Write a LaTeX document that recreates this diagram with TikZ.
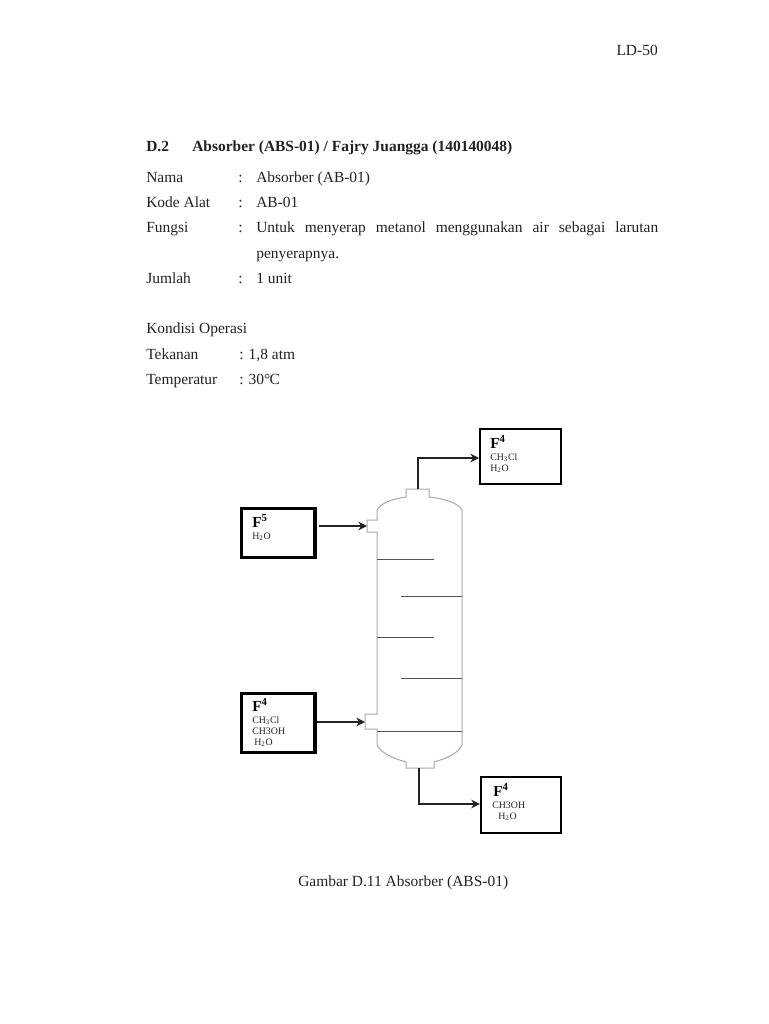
\documentclass[tikz,border=0pt]{standalone}
\usepackage{fontspec}
\setmainfont{Liberation Serif}
\usetikzlibrary{arrows.meta,fit}
\definecolor{shell}{HTML}{A8A8A8}
\definecolor{tray}{HTML}{555555}
\definecolor{ink}{HTML}{222222}
\tikzset{
  body/.style={anchor=base west,inner sep=0pt,font=\fontsize{11.6}{14}\selectfont,text=ink},
  bodybold/.style={body,font=\fontsize{11.6}{14}\selectfont\bfseries},
  stream/.style={draw=black,inner sep=0pt,fit={#1}},
  fhead/.style={anchor=base west,inner sep=0pt,font=\fontsize{11.5}{14}\selectfont\bfseries},
  fsub/.style={anchor=base west,inner sep=0pt,font=\fontsize{7.4}{9}\selectfont,text=ink},
  shellline/.style={draw=shell,line width=0.75pt},
  trayline/.style={draw=tray,line width=0.75pt},
  fl/.style={-{Stealth[length=6.5pt,width=6.5pt]},draw=ink,line width=0.9pt},
}
\begin{document}
\begin{tikzpicture}[x=0.75pt,y=-0.75pt]
  \useasboundingbox (0,0) rectangle (768,1024);
  % page text
  \node[body,anchor=base east] (page) at (658,56) {LD-50};
  \node[bodybold] (sec) at (146,151) {D.2};
  \node[bodybold] (title) at (192,151) {Absorber (ABS-01) / Fajry Juangga (140140048)};
  \node[body] (nama) at (146,182) {Nama};
  \node[body] (namac) at (238,182) {:};
  \node[body] (namav) at (256,182) {Absorber (AB-01)};
  \node[body] (kode) at (146,207) {Kode Alat};
  \node[body] (kodec) at (238,207) {:};
  \node[body] (kodev) at (256,207) {AB-01};
  \node[body] (fungsi) at (146,232) {Fungsi};
  \node[body] (fungsic) at (238,232) {:};
  \node[body] (fungsiv) at (256,232) {\hbox to 301.5pt{Untuk menyerap metanol menggunakan air sebagai larutan}};
  \node[body] (fungsiw) at (256,258) {penyerapnya.};
  \node[body] (jumlah) at (146,283) {Jumlah};
  \node[body] (jumlahc) at (238,283) {:};
  \node[body] (jumlahv) at (256,283) {1 unit};
  \node[body] (kondisi) at (146,333) {Kondisi Operasi};
  \node[body] (tekanan) at (146,359) {Tekanan};
  \node[body] (tekananv) at (239,359) {: 1,8 atm};
  \node[body] (temp) at (146,384) {Temperatur};
  \node[body] (tempv) at (239,384) {: 30\textdegree\kern-0.5pt C};
  \node[body] (caption) at (298,886) {Gambar D.11 Absorber (ABS-01)};

  % stream boxes
  \node[stream={(480,429)(561,484)},line width=1.5pt] (topbox) {};
  \node[stream={(241.5,508.5)(315,557.5)},line width=2.4pt] (waterbox) {};
  \node[stream={(241.5,693.5)(315,752.5)},line width=2.4pt] (gasbox) {};
  \node[stream={(481,777)(561,833)},line width=1.7pt] (botbox) {};

  \node[fhead] (topf) at (490,448) {F\textsuperscript{4}};
  \node[fsub] (topa) at (490,460) {CH\textsubscript{3}Cl};
  \node[fsub] (topb) at (490,471) {H\textsubscript{2}O};
  \node[fhead] (waterf) at (252,527) {F\textsuperscript{5}};
  \node[fsub] (watera) at (252,539) {H\textsubscript{2}O};
  \node[fhead] (gasf) at (252,711) {F\textsuperscript{4}};
  \node[fsub] (gasa) at (252,723) {CH\textsubscript{3}Cl};
  \node[fsub] (gasb) at (252,734) {CH3OH};
  \node[fsub] (gasc) at (254,745) {H\textsubscript{2}O};
  \node[fhead] (botf) at (493,796) {F\textsuperscript{4}};
  \node[fsub] (bota) at (492,808) {CH3OH};
  \node[fsub] (botb) at (498,819) {H\textsubscript{2}O};

  % absorber column
  \draw[shellline] (377,714) -- (365,714) -- (365,729) -- (377,729) -- (377,745)
    .. controls (381,753) and (392,758) .. (406,762) -- (406,768) -- (434,768) -- (434,762)
    .. controls (448,758) and (458,753) .. (462,745) -- (462,510)
    .. controls (458,503) and (446,499) .. (429,497) -- (429,489) -- (406,489) -- (406,497)
    .. controls (392,499) and (381,503) .. (377,510) -- (377,520) -- (367,520) -- (367,532) -- (377,532) -- cycle;
  \draw[trayline] (377,559) -- (434,559);
  \draw[trayline] (401,596) -- (462,596);
  \draw[trayline] (377,637) -- (434,637);
  \draw[trayline] (401,678) -- (462,678);
  \draw[trayline] (377,731) -- (462,731);

  % nozzles
  \coordinate (topout) at (418,489);
  \coordinate (botout) at (419,768);
  \coordinate (waterin) at (367,526);
  \coordinate (gasin) at (365,722);

  % streams
  \draw[fl] (topout) |- (topbox.west |- 0,458);
  \draw[fl] (botout) |- (botbox.west |- 0,804);
  \draw[fl] ([xshift=1.5pt]waterbox.east |- waterin) -- (waterin);
  \draw[fl] (gasbox.east |- gasin) -- (gasin);
\end{tikzpicture}
\end{document}
